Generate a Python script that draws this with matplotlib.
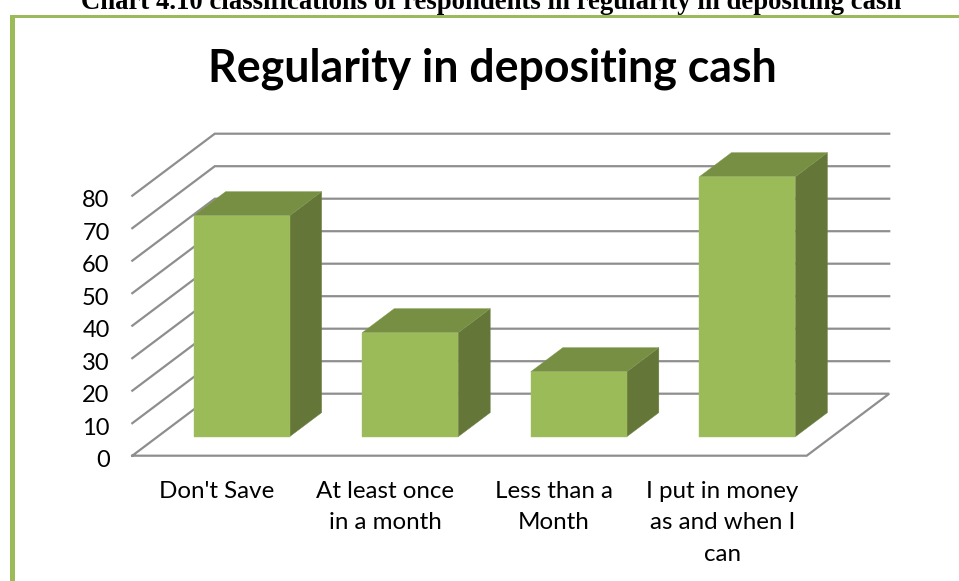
import numpy as np
import matplotlib.pyplot as plt
from matplotlib.patches import Polygon, Rectangle
from matplotlib.transforms import ScaledTranslation

categories = ["Don't Save", "At least once\nin a month", "Less than a\nMonth", "I put in money\nas and when I\ncan"]
values = [68, 32, 20, 80]
yticks = [0, 10, 20, 30, 40, 50, 60, 70, 80]

caption = "Chart 4.10 classifications of respondents in regularity in depositing cash"
title = "Regularity in depositing cash"

W, H = 959, 581
plt.rcParams["font.family"] = ["Lato", "DejaVu Sans"]

fig = plt.figure(figsize=(W / 100, H / 100), dpi=100)

# axes box is the front edge of the fake 3d floor, in pixels
left, right, y0, y80 = 132.3, 806.7, 455.7, 195.7
ax = fig.add_axes([left / W, 1 - y0 / H, (right - left) / W, (y0 - y80) / H])
ax.set_xlim(0, len(categories))
ax.set_ylim(0, 80)
ax.patch.set_visible(False)
for s in ax.spines.values():
    s.set_visible(False)

# depth of the 3d box, in data units
depth_x = 82.5 / 168.6
depth_y = 62 / 3.25


def proj(x, y, d):
    return (x + d * depth_x, y + d * depth_y)


grid_col = "#8e8e8e"
for t in yticks:
    a = proj(0, t, 0)
    b = proj(0, t, 1)
    c = proj(len(categories), t, 1)
    if t == 0:
        # floor outline
        d = proj(len(categories), t, 0)
        ax.plot([a[0], b[0], c[0], d[0], a[0]], [a[1], b[1], c[1], d[1], a[1]],
                color=grid_col, lw=1.6, clip_on=False, zorder=1, solid_joinstyle="miter")
    else:
        ax.plot([a[0], b[0], c[0]], [a[1], b[1], c[1]],
                color=grid_col, lw=1.6, clip_on=False, zorder=1, solid_joinstyle="miter")

# bars
bar_w = 96 / 168.6
d1, d2 = 0.306, 0.695
for i, v in enumerate(values):
    x1 = i + 36 / 168.6
    x2 = x1 + bar_w
    front = [proj(x1, 0, d1), proj(x2, 0, d1), proj(x2, v, d1), proj(x1, v, d1)]
    side = [proj(x2, 0, d1), proj(x2, 0, d2), proj(x2, v, d2), proj(x2, v, d1)]
    top = [proj(x1, v, d1), proj(x2, v, d1), proj(x2, v, d2), proj(x1, v, d2)]
    ax.add_patch(Polygon(side, closed=True, fc="#647638", ec="#6f8045", lw=0.3, clip_on=False, zorder=3))
    ax.add_patch(Polygon(top, closed=True, fc="#778f42", ec="#839a55", lw=0.3, clip_on=False, zorder=3))
    ax.add_patch(Polygon(front, closed=True, fc="#9bbb59", ec="#a3c166", lw=0.3, clip_on=False, zorder=4))

ax.set_yticks(yticks)
ax.set_yticklabels([str(t) for t in yticks], fontsize=17, color="black")
ax.set_xticks(np.arange(len(categories)) + 0.5)
ax.set_xticklabels(categories, fontsize=17.4, color="black", linespacing=1.62)
ax.tick_params(axis="both", length=0)
ax.tick_params(axis="y", pad=16.3)
ax.tick_params(axis="x", pad=18)

# y labels sit a little low in the original
for lab in ax.get_yticklabels():
    lab.set_transform(lab.get_transform() + ScaledTranslation(0, -2.2 / 72, fig.dpi_scale_trans))

# frame of the pasted chart
green = "#9bbb59"
fig.add_artist(Rectangle((9.5 / W, 0), 5 / W, 1 - 15 / H, transform=fig.transFigure, fc=green, ec="none"))
fig.add_artist(Rectangle((9.5 / W, 1 - 17.5 / H), 1 - 9.5 / W, 2.5 / H, transform=fig.transFigure, fc=green, ec="none"))

fig.text(491 / W, 1 - 9 / H, caption, ha="center", va="baseline", fontsize=19.3,
         fontweight="bold", family="Liberation Serif", color="black")
fig.text(492 / W, 1 - 82 / H, title, ha="center", va="baseline", fontsize=32.1,
         fontweight="bold", color="black")

fig.savefig("out.png", dpi=100)
